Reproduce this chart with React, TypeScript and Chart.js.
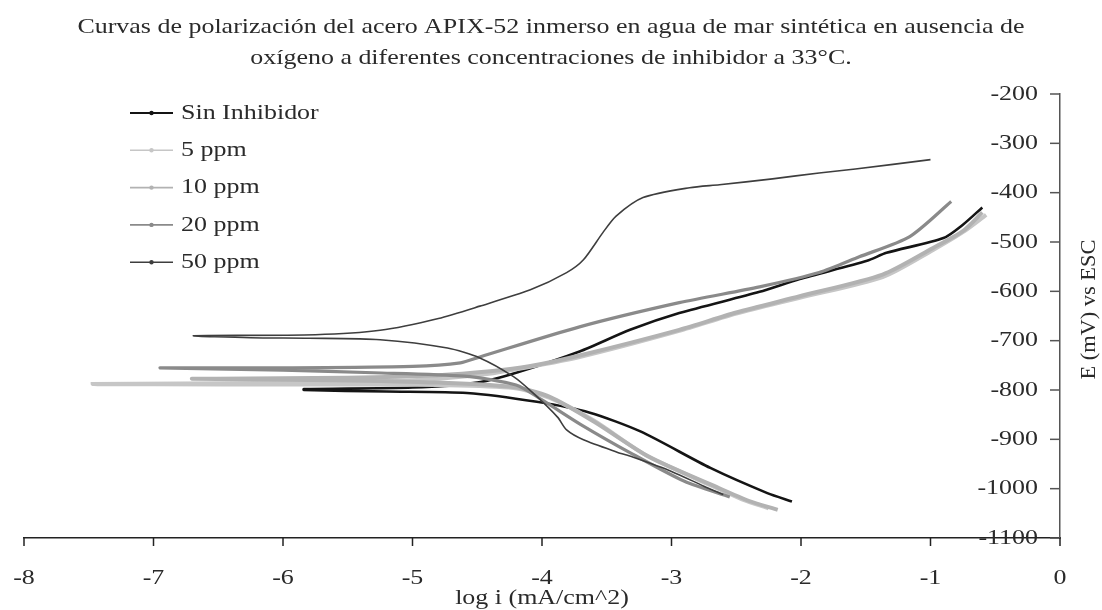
import React, { useEffect, useRef } from "react";
import { Chart, registerables } from "chart.js";

Chart.register(...registerables);

// ---- text ----
const titleLines = [
  "Curvas de polarización del acero APIX-52 inmerso en agua de mar sintética en ausencia de",
  "oxígeno a diferentes concentraciones de inhibidor a 33°C.",
];
const xAxisTitle = "log i (mA/cm^2)";
const yAxisTitle = "E (mV) vs ESC";
const xTicks = [-8, -7, -6, -5, -4, -3, -2, -1, 0];
const yTicks = [-1100, -1000, -900, -800, -700, -600, -500, -400, -300, -200];

// ---- series (log i, E) ----
const seriesLabels = ["Sin Inhibidor", "5 ppm", "10 ppm", "20 ppm", "50 ppm"];

const sinInhibidorX = [-2.07, -2.26, -2.7, -3.24, -3.63, -4.04, -4.58, -5.2, -5.84, -5.84, -5.0, -4.5, -4.2, -3.71, -3.32, -2.94, -2.32, -2.01, -1.49, -1.34, -0.9, -0.75, -0.6];
const sinInhibidorY = [-1026, -1009, -958, -884, -846, -824, -806, -803, -800, -798, -795, -785, -765, -722, -678, -644, -601, -575, -538, -522, -492, -465, -430];

const ppm5X = [-2.25, -2.45, -2.7, -3.2, -3.6, -3.94, -4.22, -4.8, -5.5, -6.2, -7.47, -6.2, -5.0, -4.5, -4.22, -3.71, -2.94, -2.5, -2.01, -1.37, -0.98, -0.75, -0.57];
const ppm5Y = [-1040, -1022, -993, -932, -862, -816, -796, -790, -789, -789, -788, -786, -780, -770, -759, -733, -680, -645, -613, -571, -516, -480, -445];

const ppm10X = [-2.18, -2.4, -2.65, -3.17, -3.6, -3.94, -4.22, -4.8, -5.6, -6.7, -6.51, -5.5, -4.8, -4.4, -4.1, -3.71, -2.94, -2.5, -2.01, -1.37, -0.98, -0.75, -0.6];
const ppm10Y = [-1043, -1025, -997, -936, -864, -814, -794, -785, -780, -777, -777, -775, -770, -762, -752, -730, -678, -643, -610, -566, -512, -478, -440];

const ppm20X = [-2.55, -2.9, -3.3, -3.7, -4.0, -4.2, -4.6, -5.3, -6.0, -6.95, -6.05, -5.0, -4.63, -4.48, -3.71, -2.94, -2.32, -1.86, -1.55, -1.16, -0.84];
const ppm20Y = [-1017, -985, -930, -870, -820, -790, -772, -765, -760, -755, -755, -752, -745, -733, -672, -623, -591, -562, -530, -489, -418];

const ppm50X = [-2.6, -2.75, -3.0, -3.3, -3.42, -3.68, -3.81, -3.88, -4.07, -4.22, -4.48, -4.73, -5.25, -5.8, -6.25, -6.69, -5.75, -5.25, -4.8, -4.48, -4.09, -3.81, -3.68, -3.53, -3.43, -3.22, -2.86, -2.63, -2.22, -1.86, -1.58, -1.0];
const ppm50Y = [-1012, -995, -965, -936, -926, -901, -881, -855, -806, -773, -735, -715, -698, -695, -694, -690, -688, -679, -655, -630, -597, -562, -536, -481, -448, -410, -390, -384, -372, -360, -352, -333];

const seriesX = [sinInhibidorX, ppm5X, ppm10X, ppm20X, ppm50X];
const seriesY = [sinInhibidorY, ppm5Y, ppm10Y, ppm20Y, ppm50Y];
const seriesColors = ["#141414", "#c6c6c6", "#b2b2b2", "#8a8a8a", "#3e3e3e"];
const seriesWidths = [2.6, 4, 4, 3.2, 1.6];
const seriesOrder = [5, 4, 3, 2, 1];

const FONT = '"Liberation Serif", "DejaVu Serif", serif';
const TEXT = "#2a2a2a";
const SX = 1.18;

function drawText(ctx: CanvasRenderingContext2D, s: string, x: number, y: number, align: CanvasTextAlign, sx: number = SX) {
  ctx.save();
  ctx.translate(x, y);
  ctx.scale(sx, 1);
  ctx.textAlign = align;
  ctx.textBaseline = "middle";
  ctx.fillText(s, 0, 0);
  ctx.restore();
}

const overlay = {
  id: "overlay",
  afterDraw(chart: any) {
    const ctx: CanvasRenderingContext2D = chart.ctx;
    const xs = chart.scales.x;
    const ys = chart.scales.y;
    const area = chart.chartArea;
    ctx.save();
    ctx.fillStyle = TEXT;

    // title
    ctx.font = `22px ${FONT}`;
    drawText(ctx, titleLines[0], chart.width / 2, 27, "center");
    drawText(ctx, titleLines[1], chart.width / 2, 58, "center");

    // y ticks + labels (inside, left of the right axis)
    ctx.strokeStyle = "#555";
    ctx.lineWidth = 1.5;
    ctx.font = `22px ${FONT}`;
    for (const v of yTicks) {
      const py = ys.getPixelForValue(v);
      ctx.beginPath();
      ctx.moveTo(area.right - 10, py);
      ctx.lineTo(area.right, py);
      ctx.stroke();
      drawText(ctx, String(v), area.right - 22, py, "right");
    }

    // x ticks + labels
    ctx.strokeStyle = "#222";
    for (const v of xTicks) {
      const px = xs.getPixelForValue(v);
      ctx.beginPath();
      ctx.moveTo(px, area.bottom);
      ctx.lineTo(px, area.bottom + 8);
      ctx.stroke();
      drawText(ctx, String(v), px, 578, "center");
    }

    // axis titles
    ctx.font = `22px ${FONT}`;
    drawText(ctx, xAxisTitle, xs.getPixelForValue(-4), 598, "center");
    ctx.font = `20px ${FONT}`;
    ctx.save();
    ctx.translate(1090, ys.getPixelForValue(-637));
    ctx.rotate(-Math.PI / 2);
    ctx.scale(1.12, 1);
    ctx.textAlign = "center";
    ctx.textBaseline = "middle";
    ctx.fillText(yAxisTitle, 0, 0);
    ctx.restore();

    // legend
    ctx.font = `22px ${FONT}`;
    chart.data.datasets.forEach((ds: any, i: number) => {
      const y = 113 + i * 37.3;
      ctx.strokeStyle = ds.borderColor;
      ctx.lineWidth = i === 0 ? 2 : 1.6;
      ctx.beginPath();
      ctx.moveTo(130, y);
      ctx.lineTo(173, y);
      ctx.stroke();
      ctx.fillStyle = ds.borderColor;
      ctx.beginPath();
      ctx.arc(151.5, y, 2.2, 0, Math.PI * 2);
      ctx.fill();
      ctx.fillStyle = TEXT;
      drawText(ctx, ds.label, 181, y, "left");
    });
    ctx.restore();
  },
};

export default function App() {
  const ref = useRef<HTMLCanvasElement | null>(null);
  useEffect(() => {
    document.body.style.margin = "0";
    if (!ref.current) return;
    const datasets = seriesLabels.map((label, i) => ({
      label,
      data: seriesX[i].map((x, j) => ({ x, y: seriesY[i][j] })),
      borderColor: seriesColors[i],
      backgroundColor: seriesColors[i],
      borderWidth: seriesWidths[i],
      pointRadius: 0,
      showLine: true,
      tension: 0.25,
      order: seriesOrder[i],
    }));
    const chart = new Chart(ref.current, {
      type: "scatter",
      data: { datasets },
      options: {
        responsive: false,
        animation: false,
        devicePixelRatio: 1,
        layout: { padding: { top: 94, left: 24, right: 0, bottom: 0 } },
        plugins: { legend: { display: false }, title: { display: false }, tooltip: { enabled: false } },
        scales: {
          x: {
            type: "linear",
            min: -8,
            max: 0,
            position: "bottom",
            grid: { display: false },
            ticks: { display: false, stepSize: 1 },
            border: { display: true, color: "#222", width: 1.5 },
            afterFit: (s: any) => { s.height = 72; },
          },
          y: {
            type: "linear",
            min: -1100,
            max: -200,
            position: "right",
            grid: { display: false },
            ticks: { display: false, stepSize: 100 },
            border: { display: true, color: "#555", width: 1.5 },
            afterFit: (s: any) => { s.width = 42; },
          },
        },
      },
      plugins: [overlay],
    });
    return () => chart.destroy();
  }, []);
  return (
    <div style={{ width: 1102, height: 610, background: "#fff" }}>
      <canvas ref={ref} width={1102} height={610} />
    </div>
  );
}
